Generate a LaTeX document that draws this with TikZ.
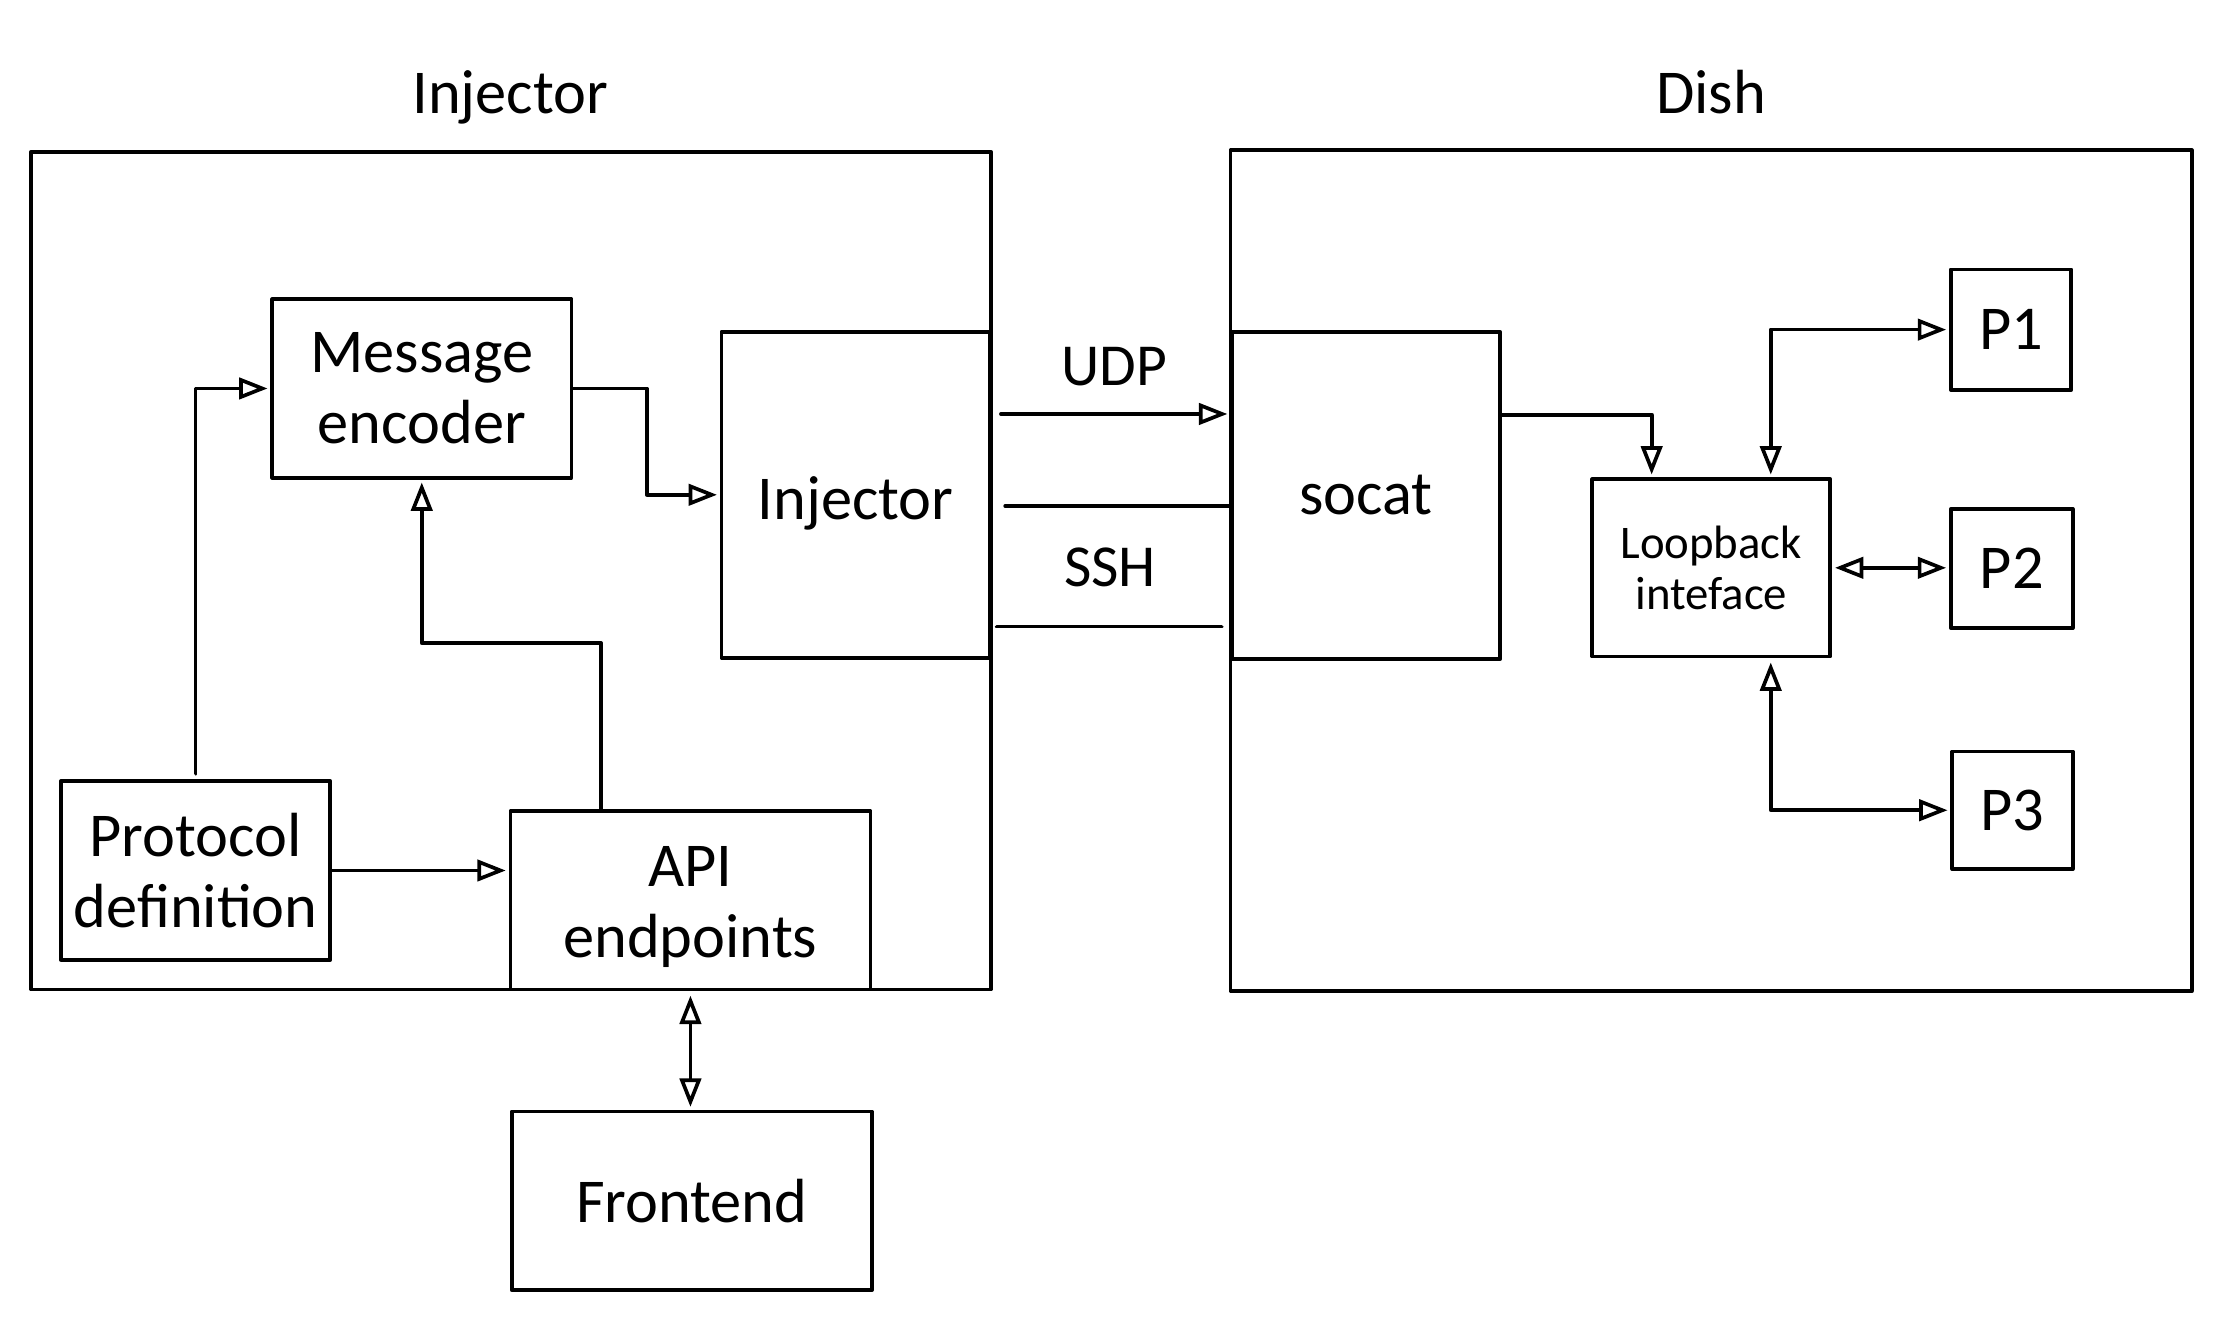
\documentclass[tikz,border=0pt]{standalone}
\usepackage{fontspec}
\setmainfont{Carlito}
\usetikzlibrary{arrows.meta,calc}
\begin{document}
\begin{tikzpicture}[x=1pt,y=-1pt,
  line width=2.6pt, line join=round, line cap=round,
  box/.style={draw=black, rectangle, inner sep=0pt, align=center,
    font=\fontsize{44}{50}\selectfont},
  frame/.style={draw=black, rectangle, inner sep=0pt},
  title/.style={font=\fontsize{44}{50}\selectfont, inner sep=0pt, anchor=base},
  lbl/.style={font=\fontsize{42}{48}\selectfont, inner sep=0pt, anchor=base},
  tip/.tip={Triangle[open, length=20pt, width=15pt]},
  conn/.style={draw=black, -tip},
  bconn/.style={draw=black, tip-tip},
]
\useasboundingbox[fill=white] (0,0) rectangle (1568,933);

% frames
\node[frame, minimum width=677pt, minimum height=591pt] (injframe) at (360.5,402.5) {};
\node[frame, minimum width=678pt, minimum height=593pt] (dishframe) at (1207,402.5) {};

% titles
\node[title] (injtitle) at (360,80) {Injector};
\node[title] (dishtitle) at (1207,80) {Dish};

% left boxes
\node[box, fill=white, minimum width=211pt, minimum height=126pt] (msg) at (297.5,274) {Message\\encoder};
\node[box, minimum width=189pt, minimum height=230pt] (inj) at (603.5,349) {\rule{0pt}{42pt}Injector};
\node[box, fill=white, minimum width=190pt, minimum height=126pt] (proto) at (138,614) {Protocol\\definition};
\node[box, fill=white, minimum width=254pt, minimum height=126pt] (api) at (487,635) {\rule{0pt}{38pt}API\\endpoints};
\node[box, minimum width=254pt, minimum height=126pt] (front) at (488,847) {Frontend};

% right boxes
\node[box, minimum width=189pt, minimum height=231pt] (socat) at (963.5,349.5) {socat};
\node[box, minimum width=168pt, minimum height=125pt, font=\fontsize{33}{36}\selectfont] (loop) at (1207,400.5) {Loopback\\inteface};
\node[box, minimum width=85pt, minimum height=85pt] (p1) at (1418.5,232.5) {P1};
\node[box, minimum width=86pt, minimum height=84pt] (p2) at (1419,401) {P2};
\node[box, minimum width=85pt, minimum height=83pt] (p3) at (1419.5,571.5) {P3};

% link labels
\node[lbl] (udp) at (786,272) {UDP};
\node[lbl] (ssh) at (783,414) {SSH};

% connectors left
\draw[conn, shorten >=2pt] ([yshift=4pt]proto.north) |- (msg.west);
\draw[conn, shorten >=2pt] (msg.east) -- ++(52,0) |- (inj.west);
\draw[conn, shorten >=2pt] ([xshift=-63pt]api.north) -- ++(0,-117) -| (msg.south);
\draw[conn, shorten >=2pt] (proto.east) -- (proto.east -| api.west);
\draw[bconn, shorten >=2pt, shorten <=3pt] (api.south) -- (api.south |- front.north);

% links
\coordinate (udpstart) at (706,292);
\coordinate (ssha) at (709,357);
\coordinate (sshb) at (703,442);
\draw[conn, shorten >=2pt] (udpstart) -- (udpstart -| socat.west);
\draw (ssha) -- (ssha -| socat.west);
\draw (sshb) -- ([xshift=-6pt]sshb -| socat.west);

% connectors right
\draw[conn, shorten >=2pt] ([yshift=57pt]socat.east) -| ([xshift=-42pt]loop.north);
\draw[bconn, shorten >=2pt, shorten <=2pt] ([xshift=42pt]loop.north) |- (p1.west);
\draw[bconn, shorten >=2pt, shorten <=2pt] (loop.east) -- (loop.east -| p2.west);
\draw[bconn, shorten >=2pt, shorten <=3pt] ([xshift=42pt]loop.south) |- (p3.west);
\end{tikzpicture}
\end{document}
